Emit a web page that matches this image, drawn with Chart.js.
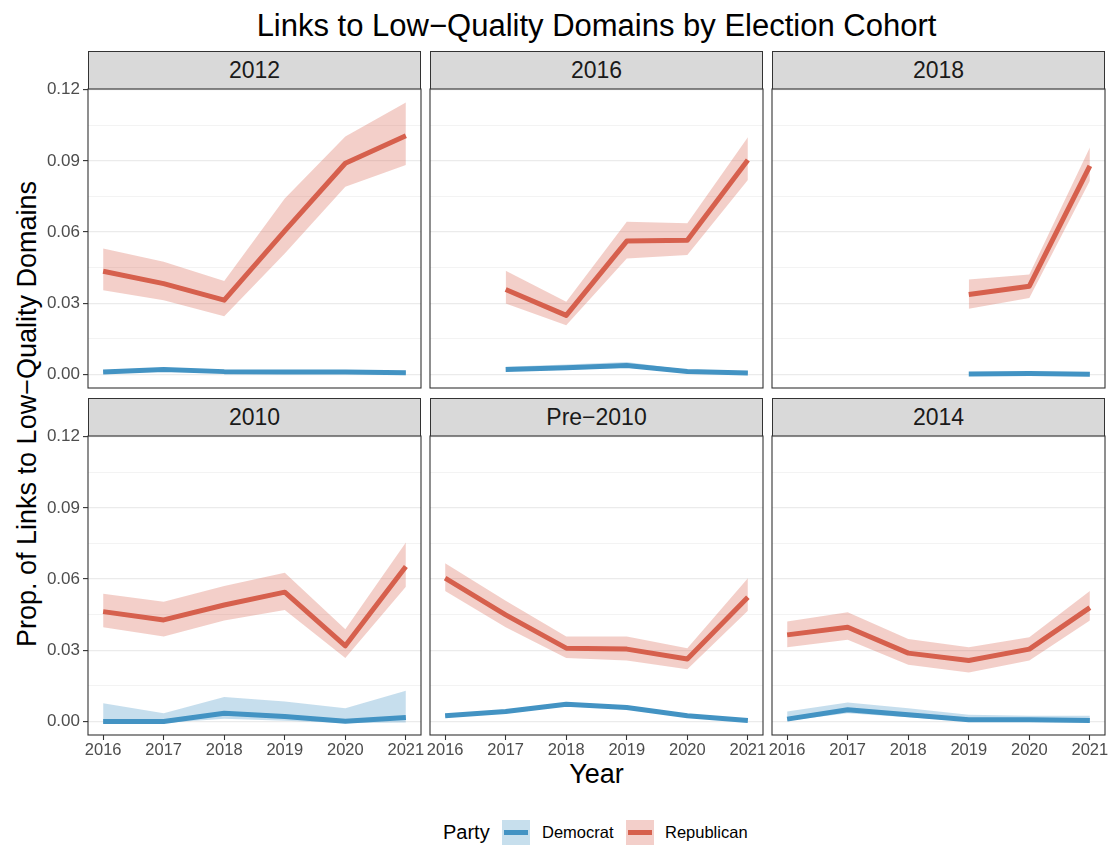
<!DOCTYPE html>
<html>
<head>
<meta charset="utf-8">
<script src="https://cdn.jsdelivr.net/npm/chart.js@4.4.1/dist/chart.umd.min.js"></script>
<style>
  body { margin: 0; background: #fff; font-family: "Liberation Sans", Arial, sans-serif; }
  #wrap { position: relative; width: 1109px; height: 846px; overflow: hidden; background: #fff; }
  #wrap canvas { position: absolute; }
  .title { position: absolute; left: 88px; width: 1017px; top: 10px; text-align: center; font-size: 31px; line-height: 31px; color: #000; white-space: nowrap; }
  .strip { position: absolute; box-sizing: border-box; width: 333px; height: 39px; border: 1.1px solid #333; background: #D9D9D9; color: #1A1A1A; font-size: 23px; line-height: 36px; text-align: center; }
  .ytitle { position: absolute; left: 27px; top: 414px; transform: translate(-50%, -50%) rotate(-90deg); font-size: 27px; white-space: nowrap; color: #000; }
  .xtitle { position: absolute; left: 88px; width: 1017px; top: 759px; text-align: center; font-size: 27px; line-height: 30px; color: #000; }
  .legend { position: absolute; top: 820px; height: 25px; font-size: 16.5px; line-height: 25px; color: #000; }
  .key { position: absolute; top: 820px; width: 28px; height: 25px; }
  .key span { position: absolute; left: 2px; right: 2px; top: 10px; height: 5px; }
</style>
</head>
<body>
<div id="wrap">
  <div class="title">Links to Low−Quality Domains by Election Cohort</div>
  <div class="ytitle">Prop. of Links to Low−Quality Domains</div>
  <div class="xtitle">Year</div>
  <div class="legend" style="left:443px; font-size:20px;">Party</div>
  <div class="key" style="left:502px; background:#C7DFED;"><span style="background:#4393C3;"></span></div>
  <div class="legend" style="left:542px;">Democrat</div>
  <div class="key" style="left:626px; background:#F3CFCA;"><span style="background:#D6604D;"></span></div>
  <div class="legend" style="left:665px;">Republican</div>
</div>
<script>
// facet panels, in reading order
const cohorts = ['2012', '2016', '2018', '2010', 'Pre−2010', '2014'];
const years = [2016, 2017, 2018, 2019, 2020, 2021];
const yMajorTicks = [0, 0.03, 0.06, 0.09, 0.12];
const yMinorTicks = [0.015, 0.045, 0.075, 0.105];

// Republican mean and ribbon bounds, one row per cohort
const repMean = [
  [0.0435, 0.0383, 0.0313, 0.0605, 0.0890, 0.1006],
  [null, 0.0358, 0.0249, 0.0562, 0.0566, 0.0904],
  [null, null, null, 0.0337, 0.0372, 0.0879],
  [0.0463, 0.0428, 0.0491, 0.0545, 0.0319, 0.0653],
  [0.0604, 0.0449, 0.0309, 0.0305, 0.0263, 0.0524],
  [0.0365, 0.0397, 0.0288, 0.0257, 0.0305, 0.0480]
];
const repLow = [
  [0.0355, 0.0313, 0.0245, 0.0510, 0.0791, 0.0883],
  [null, 0.0299, 0.0207, 0.0489, 0.0503, 0.0820],
  [null, null, null, 0.0277, 0.0322, 0.0816],
  [0.0397, 0.0358, 0.0425, 0.0470, 0.0267, 0.0568],
  [0.0550, 0.0397, 0.0267, 0.0257, 0.0220, 0.0467],
  [0.0313, 0.0344, 0.0239, 0.0206, 0.0257, 0.0425]
];
const repHigh = [
  [0.0531, 0.0475, 0.0394, 0.0742, 0.1003, 0.1146],
  [null, 0.0437, 0.0306, 0.0644, 0.0637, 0.1000],
  [null, null, null, 0.0400, 0.0421, 0.0957],
  [0.0538, 0.0505, 0.0571, 0.0627, 0.0389, 0.0754],
  [0.0667, 0.0509, 0.0358, 0.0358, 0.0309, 0.0604],
  [0.0421, 0.0460, 0.0348, 0.0313, 0.0355, 0.0550]
];

// Democrat mean and ribbon bounds
const demMean = [
  [0.0010, 0.0021, 0.0012, 0.0010, 0.0010, 0.0007],
  [null, 0.0021, 0.0028, 0.0038, 0.0013, 0.0006],
  [null, null, null, 0.0002, 0.0004, 0.0001],
  [0.0000, 0.0000, 0.0035, 0.0021, 0.0001, 0.0017],
  [0.0024, 0.0042, 0.0073, 0.0059, 0.0024, 0.0004],
  [0.0010, 0.0049, 0.0028, 0.0007, 0.0007, 0.0004]
];
const demLow = [
  [0.0004, 0.0015, 0.0007, 0.0006, 0.0006, 0.0003],
  [null, 0.0014, 0.0020, 0.0028, 0.0009, 0.0003],
  [null, null, null, 0.0000, 0.0001, -0.0001],
  [-0.0006, -0.0006, 0.0012, 0.0003, -0.0006, -0.0004],
  [0.0019, 0.0036, 0.0066, 0.0052, 0.0019, 0.0001],
  [0.0003, 0.0035, 0.0018, 0.0002, 0.0002, 0.0000]
];
const demHigh = [
  [0.0018, 0.0028, 0.0017, 0.0014, 0.0014, 0.0011],
  [null, 0.0033, 0.0042, 0.0053, 0.0019, 0.0010],
  [null, null, null, 0.0005, 0.0008, 0.0004],
  [0.0077, 0.0035, 0.0103, 0.0084, 0.0056, 0.0129],
  [0.0029, 0.0048, 0.0080, 0.0066, 0.0029, 0.0008],
  [0.0042, 0.0080, 0.0056, 0.0028, 0.0024, 0.0024]
];

const RED = '#D6604D', RED_RIB = 'rgba(214,96,77,0.3)';
const BLUE = '#4393C3', BLUE_RIB = 'rgba(67,147,195,0.3)';

Chart.defaults.font.family = "'Liberation Sans', Arial, sans-serif";
Chart.defaults.animation = false;

const panelLefts = [88, 430, 772];
const panelTops = [89, 436];
const PW = 333, PH = 299;

function pts(arr) {
  return years.map((x, i) => ({ x: x, y: arr[i] })).filter(p => p.y !== null);
}
function isMajor(v) {
  return yMajorTicks.some(t => Math.abs(t - v) < 1e-9);
}

// draws the dark frame round each panel
const panelBorder = {
  id: 'panelBorder',
  afterDatasetsDraw(chart) {
    const { ctx, chartArea: a } = chart;
    ctx.save();
    ctx.strokeStyle = '#333333';
    ctx.lineWidth = 1.1;
    ctx.strokeRect(a.left, a.top, a.right - a.left, a.bottom - a.top);
    ctx.restore();
  }
};

const wrap = document.getElementById('wrap');

cohorts.forEach(function(name, i) {
  const col = i % 3, row = Math.floor(i / 3);
  const showY = col === 0, showX = row === 1;
  // room round the plot area so label overhang never squeezes it
  const padL = showY ? 50 : 12, padR = 12, padT = 16, padB = showX ? 32 : 16;

  const strip = document.createElement('div');
  strip.className = 'strip';
  strip.textContent = name;
  strip.style.left = panelLefts[col] + 'px';
  strip.style.top = (panelTops[row] - 38) + 'px';
  wrap.appendChild(strip);

  const cv = document.createElement('canvas');
  cv.width = PW + padL + padR;
  cv.height = PH + padT + padB;
  cv.style.left = (panelLefts[col] - padL) + 'px';
  cv.style.top = (panelTops[row] - padT) + 'px';
  wrap.appendChild(cv);

  const line = (data, color) => ({
    data: data, borderColor: color, borderWidth: 5, pointRadius: 0,
    borderJoinStyle: 'round', tension: 0, fill: false
  });
  const band = (data, color, fill) => ({
    data: data, borderColor: 'rgba(0,0,0,0)', borderWidth: 0, pointRadius: 0,
    backgroundColor: color, tension: 0, fill: fill
  });

  new Chart(cv.getContext('2d'), {
    type: 'line',
    data: {
      datasets: [
        line(pts(repMean[i]), RED),
        line(pts(demMean[i]), BLUE),
        band(pts(repHigh[i]), RED_RIB, '+1'),
        band(pts(repLow[i]), RED_RIB, false),
        band(pts(demHigh[i]), BLUE_RIB, '+1'),
        band(pts(demLow[i]), BLUE_RIB, false)
      ]
    },
    options: {
      responsive: false,
      events: [],
      layout: { padding: { left: showY ? 0 : padL, right: padR, top: padT, bottom: showX ? 0 : padB } },
      plugins: { legend: { display: false }, tooltip: { enabled: false } },
      scales: {
        x: {
          type: 'linear',
          min: 2015.75,
          max: 2021.25,
          afterBuildTicks: s => { s.ticks = years.map(v => ({ value: v })); },
          afterFit: s => { s.height = showX ? 32 : 0; },
          border: { display: false },
          grid: {
            display: showX, drawOnChartArea: false, drawTicks: true,
            tickLength: 5, tickColor: '#333333', tickWidth: 1.1
          },
          ticks: {
            display: showX, autoSkip: false, maxRotation: 0, padding: 1,
            color: '#4D4D4D', font: { size: 16.5 },
            callback: v => String(v)
          }
        },
        y: {
          min: -0.0057,
          max: 0.1203,
          afterBuildTicks: s => {
            s.ticks = yMajorTicks.concat(yMinorTicks).sort((a, b) => a - b).map(v => ({ value: v }));
          },
          afterFit: s => { s.width = showY ? 50 : 0; },
          border: { display: false },
          grid: {
            color: '#EBEBEB',
            lineWidth: c => isMajor(c.tick.value) ? 1.2 : 0.6,
            drawTicks: showY,
            tickLength: 5,
            tickColor: c => isMajor(c.tick.value) ? '#333333' : 'rgba(0,0,0,0)',
            tickWidth: 1.1
          },
          ticks: {
            display: showY, autoSkip: false, padding: 3,
            color: '#4D4D4D', font: { size: 17 },
            callback: v => isMajor(v) ? v.toFixed(2) : ''
          }
        }
      }
    },
    plugins: [panelBorder]
  });
});
</script>
</body>
</html>
